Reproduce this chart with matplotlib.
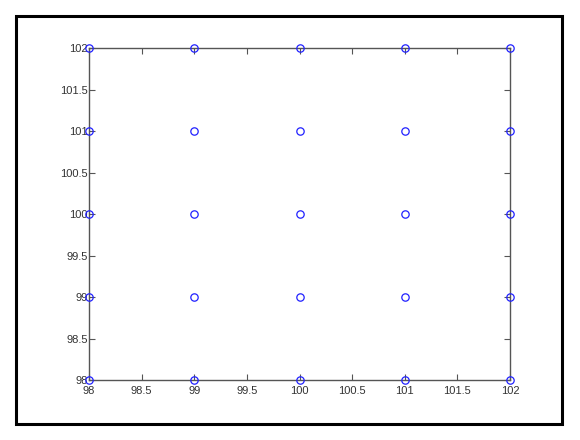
import numpy as np
import matplotlib.pyplot as plt
from matplotlib.patches import Rectangle

# grid of sample points
x_vals = [98, 99, 100, 101, 102]
y_vals = [98, 99, 100, 101, 102]
x_ticks = [98, 98.5, 99, 99.5, 100, 100.5, 101, 101.5, 102]
y_ticks = [98, 98.5, 99, 99.5, 100, 100.5, 101, 101.5, 102]

plt.rcParams['font.family'] = ['Liberation Sans', 'DejaVu Sans']

fig = plt.figure(figsize=(5.8, 4.4), dpi=100)
fig.patch.set_facecolor('white')

# outer frame around the figure
fig.patches.append(Rectangle((16 / 580, 1 - 424 / 440), (562 - 16) / 580, (424 - 16) / 440,
                             transform=fig.transFigure, fill=False,
                             edgecolor='black', linewidth=2.2))

ax = fig.add_axes([89 / 580, 1 - 380 / 440, (510 - 89) / 580, (380 - 48) / 440])

xx, yy = np.meshgrid(x_vals, y_vals)
ax.plot(xx.ravel(), yy.ravel(), 'o', markerfacecolor='none', markeredgecolor='#2020ff',
        markersize=5.3, markeredgewidth=0.9, clip_on=False, zorder=3)

ax.set_xlim(98, 102)
ax.set_ylim(98, 102)
ax.set_xticks(x_ticks)
ax.set_yticks(y_ticks)
ax.set_xticklabels([f'{t:g}' for t in x_ticks])
ax.set_yticklabels([f'{t:g}' for t in y_ticks])

for s in ax.spines.values():
    s.set_color('#555555')
    s.set_linewidth(1.0)
ax.tick_params(direction='in', length=4, width=0.8, color='#555555',
               top=True, right=True, labelsize=8, labelcolor='#333333')
ax.tick_params(axis='x', pad=4)
ax.tick_params(axis='y', pad=1)

fig.savefig('out.png', dpi=100)
